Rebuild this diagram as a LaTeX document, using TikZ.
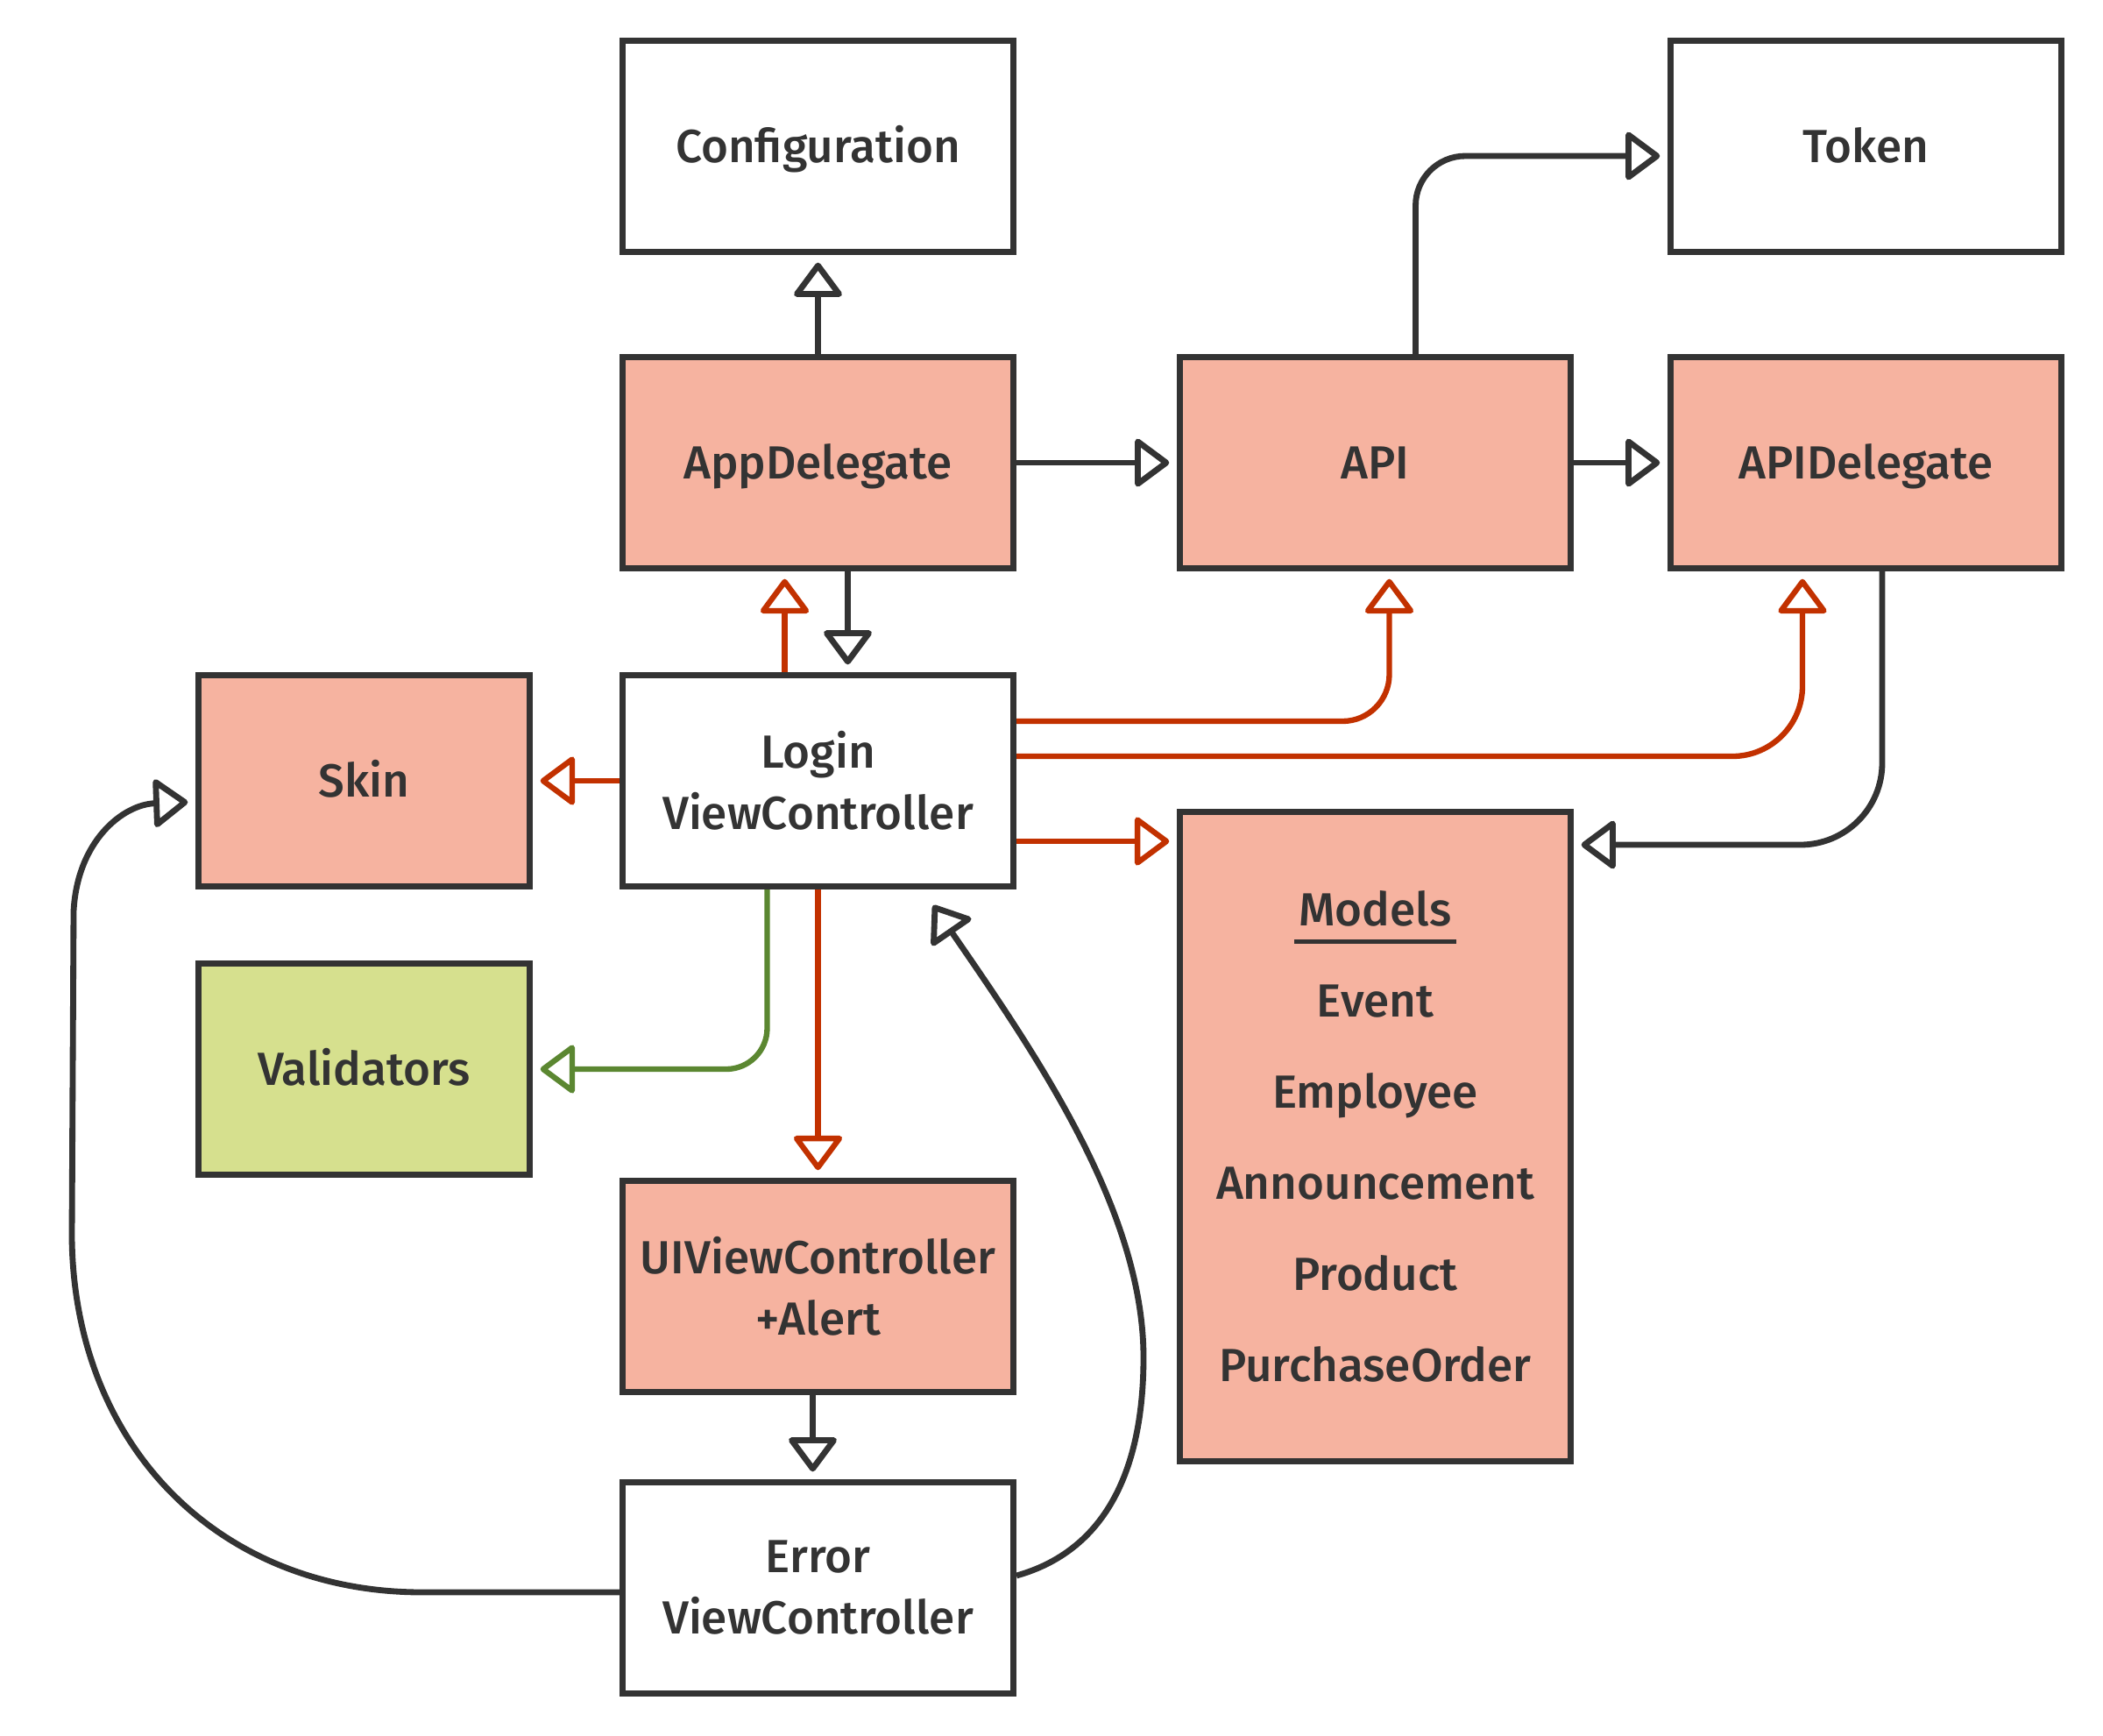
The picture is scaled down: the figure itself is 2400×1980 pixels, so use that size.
\documentclass[tikz,border=0pt]{standalone}
\usepackage{fontspec}
\setmainfont{Fira Sans Medium}
\usetikzlibrary{arrows.meta,calc}
\definecolor{ink}{HTML}{333333}
\definecolor{salmon}{HTML}{F6B3A0}
\definecolor{lime}{HTML}{D6E08E}
\definecolor{rust}{HTML}{C23100}
\definecolor{olive}{HTML}{5B8731}
\newcommand\ulword[1]{\setbox0\hbox{#1}\rlap{\kern-1.5pt\rule[-6pt]{\dimexpr\wd0+3pt\relax}{1.5pt}}\box0}
\begin{document}
\begin{tikzpicture}[x=0.3pt,y=-0.3pt,
  box/.style={draw=ink, line width=2.1pt, minimum width=133.8pt, minimum height=72.3pt,
    inner sep=0pt, align=center, text=ink, font=\fontsize{15.9}{21}\selectfont},
  one/.style={text height=11.2pt, text depth=0pt},
  narrow/.style={minimum width=113.4pt},
  pink/.style={fill=salmon},
  green/.style={fill=lime},
  white/.style={fill=white},
  conn/.style={line width=2.05pt, draw=ink, shorten >=2.6pt,
    -{Triangle[open,length=12.5pt,width=18pt,round]}},
  redc/.style={conn, draw=rust, line width=1.9pt},
  grnc/.style={conn, draw=olive, line width=1.9pt}
]
\useasboundingbox (0,0) rectangle (2400,1980);

% nodes
\node[box,white,one] (conf) at (933.5,167) {Configuration};
\node[box,white,one] (token) at (2129.5,167) {Token};
\node[box,pink,one] (app) at (933.5,528) {AppDelegate};
\node[box,pink,one] (api) at (1569.5,528) {API};
\node[box,pink,one] (apid) at (2129.5,528) {APIDelegate};
\node[box,pink,narrow,one] (skin) at (415.5,891) {Skin};
\node[box,white] (login) at (933.5,891) {Login\\ViewController};
\node[box,green,narrow,one] (valid) at (415.5,1220) {Validators};
\node[box,pink,minimum height=222.3pt,font=\fontsize{15.9}{31.2}\selectfont] (models) at (1569.5,1297)
  {\ulword{Models}\\Event\\Employee\\Announcement\\Product\\PurchaseOrder};
\node[box,pink] (uivc) at (933.5,1468) {UIViewController\\+Alert};
\node[box,white] (err) at (933.5,1812) {Error\\ViewController};

% connectors
\draw[conn] (app.north) -- (conf.south);
\draw[conn] (app.east) -- (api.west);
\draw[conn] (api.east) -- (apid.west);
\draw[conn, rounded corners=17pt] ($(api.north)+(46,0)$) |- ($(token.west)+(0,11)$);
\draw[conn] ($(app.south)+(34,0)$) -- ($(login.north)+(34,0)$);
\draw[redc] ($(login.north)+(-38,0)$) -- ($(app.south)+(-38,0)$);
\draw[redc] (login.west) -- (skin.east);
\draw[redc, rounded corners=16pt] ($(login.east)+(0,-68)$) -| ($(api.south)+(16,0)$);
\draw[redc, rounded corners=24pt] ($(login.east)+(0,-28)$) -| ($(apid.south)+(-72.5,0)$);
\draw[redc] ($(login.east)+(0,69)$) coordinate (lm) -- (lm -| models.west);
\draw[conn, rounded corners=28pt] ($(apid.south)+(18.5,0)$) |- ($(models.east)+(0,-333)$);
\draw[grnc, rounded corners=14pt] ($(login.south)+(-58,0)$) |- (valid.east);
\draw[redc] (login.south) -- (uivc.north);
\draw[conn] ($(uivc.south)+(-6,0)$) -- ($(err.north)+(-6,0)$);
\draw[conn] ($(err.west)+(0,5)$) -- (482,1817) .. controls (250,1817) and (84,1650) .. (82,1411)
  -- (84,1040) .. controls (88,960) and (140,918) .. ($(skin.west)+(0,24)$);
\draw[conn, shorten >=0pt] ($(err.east)+(0,-14)$) .. controls (1260,1770) and (1305,1680) .. (1305,1549)
  .. controls (1305,1380) and (1180,1200) .. ($(login.south east)+(-95,18)$);
\end{tikzpicture}
\end{document}
